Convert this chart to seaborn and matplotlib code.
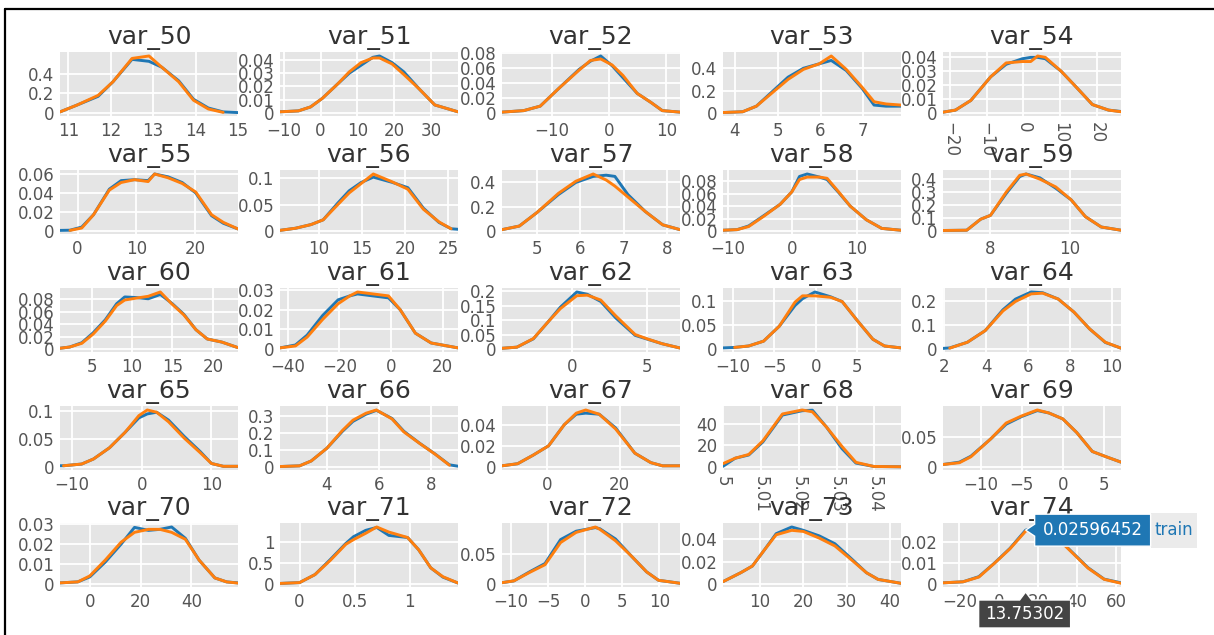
import numpy as np
import pandas as pd
import seaborn as sns
import matplotlib
matplotlib.use("Agg")
import matplotlib.pyplot as plt
import matplotlib.transforms as mtransforms
from matplotlib.patches import Polygon, Rectangle
from matplotlib.lines import Line2D

nan = float("nan")

# ---------------- data ----------------
NAMES = ["var_50", "var_51", "var_52", "var_53", "var_54",
         "var_55", "var_56", "var_57", "var_58", "var_59",
         "var_60", "var_61", "var_62", "var_63", "var_64",
         "var_65", "var_66", "var_67", "var_68", "var_69",
         "var_70", "var_71", "var_72", "var_73", "var_74"]

XS = [
    [10.8, 11.2, 11.7, 12.05, 12.5, 12.9, 13.2, 13.6, 13.95, 14.3, 14.65, 15.0],
    [-11, -6, -2.7, 0.5, 4.7, 7.8, 11, 14.2, 16, 19.4, 22.6, 26.8, 31, 37.3],
    [-18.8, -15, -12.1, -8.8, -5.3, -3.3, -1.5, 0.5, 2.4, 4.9, 7.3, 9.3, 12.4],
    [3.72, 4.18, 4.5, 4.87, 5.24, 5.6, 5.97, 6.25, 6.6, 6.97, 7.25, 7.53, 7.88],
    [-21.9, -18.5, -14.3, -8.9, -4.7, -0.3, 2, 3.9, 6, 10.3, 14.6, 18.8, 23.2, 26.6],
    [-3.0, -1.3, 0.7, 2.7, 5.4, 7.4, 9.7, 12.0, 13.1, 15.4, 17.8, 20.1, 22.8, 24.8, 27.3],
    [5.5, 7.3, 9.1, 10.5, 12.2, 13.5, 14.9, 16.3, 18.5, 20.3, 22.1, 23.9, 25.3, 26.1],
    [4.2, 4.6, 5.0, 5.5, 5.9, 6.3, 6.6, 6.8, 7.1, 7.5, 7.9, 8.3],
    [-10.8, -8.6, -6.8, -4.4, -1.9, -0.1, 1.1, 2.3, 4.2, 5.4, 7.2, 9.0, 11.5, 13.9, 16.9],
    [6.8, 7.4, 7.75, 8.0, 8.4, 8.74, 8.9, 9.25, 9.65, 10.04, 10.4, 10.8, 11.3],
    [1.1, 2.3, 3.8, 5.2, 6.7, 8.1, 9.1, 10.5, 12.0, 13.5, 14.9, 16.4, 17.9, 19.3, 21.1, 23.1],
    [-43, -37, -32.5, -26.5, -20.5, -16, -13, -7, -1, 3.5, 9.4, 15.5, 25.9],
    [-4.7, -3.7, -2.6, -1.6, -0.8, 0.3, 1.0, 1.9, 2.9, 4.2, 5.0, 6.0, 7.2],
    [-11.2, -9.8, -8.1, -6.3, -4.4, -2.5, -1.6, -0.1, 1.8, 3.2, 5.1, 6.9, 8.3, 10.3],
    [1.93, 2.25, 3.1, 3.95, 4.8, 5.4, 6.15, 6.7, 7.45, 8.2, 8.95, 9.7, 10.45],
    [-11.7, -11.2, -8.6, -6.9, -4.6, -2.4, -0.4, 0.8, 2.15, 3.85, 6.1, 8.4, 10.0, 11.7, 13.8],
    [2.2, 2.95, 3.4, 4.0, 4.6, 5.0, 5.5, 5.9, 6.5, 6.95, 7.55, 8.15, 8.7, 9.03],
    [-12.3, -8, -3.8, 0.5, 4.8, 8.1, 10.7, 14.4, 18.9, 24.2, 28.6, 31.8, 36.6],
    [5.0, 5.0032, 5.0068, 5.0105, 5.0157, 5.0209, 5.0236, 5.0273, 5.0314, 5.0351, 5.0398, 5.047],
    [-14.6, -12.6, -11.2, -8.8, -6.9, -5.0, -3.1, -1.7, 0.0, 1.7, 3.6, 5.5, 7.1],
    [-11.7, -4.7, 0, 6.1, 12.3, 17.6, 23.1, 27.6, 32.2, 37.6, 43, 49.2, 53.8, 58.3],
    [-0.177, 0.0, 0.14, 0.28, 0.42, 0.49, 0.6, 0.7, 0.81, 0.98, 1.08, 1.19, 1.3, 1.437],
    [-11.2, -9.6, -7.5, -5.4, -3.3, -1.2, 1.4, 2.0, 4.1, 6.2, 8.3, 9.9, 12.8],
    [1.4, 5.5, 8.2, 10.9, 13.7, 17.3, 20, 23.7, 27.3, 31, 34.6, 37.3, 42.6],
    [-28.4, -18.2, -10.1, -2.1, 5.8, 13.75302, 20, 27, 33.8, 45.6, 53.8, 62.4],
]

TRAIN = [
    [0.01, 0.08, 0.17, 0.32, 0.55, 0.53, 0.47, 0.33, 0.14, 0.05, 0.01, 0.003],
    [0.0008, 0.0015, 0.0045, 0.011, 0.022, 0.030, 0.036, 0.042, 0.043, 0.038, 0.031, 0.018, 0.006, 0.0008],
    [0.001, 0.003, 0.009, 0.033, 0.058, 0.069, 0.076, 0.063, 0.047, 0.026, 0.014, 0.003, 0.001],
    [0.003, 0.01, 0.06, 0.19, 0.32, 0.40, 0.44, 0.47, 0.38, 0.22, 0.07, 0.06, 0.06],
    [0.0005, 0.002, 0.009, 0.026, 0.035, 0.039, 0.040, 0.040, 0.039, 0.030, 0.018, 0.006, 0.002, 0.001],
    [0.0005, 0.0007, 0.004, 0.017, 0.044, 0.053, 0.054, 0.053, 0.060, 0.057, 0.051, 0.040, 0.016, 0.008, 0.002],
    [0.001, 0.005, 0.012, 0.021, 0.053, 0.076, 0.092, 0.102, 0.092, 0.082, 0.043, 0.016, 0.004, 0.003],
    [0.01, 0.04, 0.15, 0.30, 0.40, 0.45, 0.46, 0.45, 0.30, 0.16, 0.05, 0.01],
    [0.001, 0.002, 0.008, 0.025, 0.043, 0.063, 0.088, 0.092, 0.087, 0.083, 0.062, 0.040, 0.018, 0.004, 0.001],
    [0.003, 0.005, 0.09, 0.12, 0.29, 0.42, 0.44, 0.41, 0.33, 0.24, 0.11, 0.03, 0.005],
    [0.001, 0.003, 0.010, 0.026, 0.047, 0.073, 0.084, 0.083, 0.081, 0.088, 0.074, 0.056, 0.031, 0.016, 0.011, 0.002],
    [0.0005, 0.002, 0.007, 0.017, 0.025, 0.027, 0.028, 0.027, 0.026, 0.020, 0.008, 0.003, 0.0005],
    [0.002, 0.006, 0.035, 0.095, 0.145, 0.198, 0.19, 0.165, 0.108, 0.047, 0.034, 0.018, 0.003],
    [0.002, 0.003, 0.006, 0.016, 0.047, 0.090, 0.104, 0.118, 0.108, 0.098, 0.057, 0.020, 0.006, 0.002],
    [0.002, 0.004, 0.028, 0.077, 0.165, 0.21, 0.24, 0.237, 0.21, 0.155, 0.084, 0.027, 0.003],
    [0.002, 0.002, 0.005, 0.014, 0.034, 0.061, 0.087, 0.094, 0.097, 0.083, 0.054, 0.027, 0.006, 0.001, 0.001],
    [0.002, 0.006, 0.035, 0.11, 0.21, 0.268, 0.31, 0.333, 0.285, 0.21, 0.14, 0.076, 0.012, 0.004],
    [0.001, 0.003, 0.011, 0.020, 0.040, 0.050, 0.051, 0.050, 0.037, 0.013, 0.004, 0.001, 0.001],
    [0.5, 8, 11, 23, 48, 52, 52.5, 37, 17, 3.5, 0.4, 0.1],
    [0.004, 0.008, 0.018, 0.047, 0.072, 0.085, 0.095, 0.091, 0.081, 0.058, 0.026, 0.016, 0.008],
    [0.0005, 0.001, 0.0035, 0.011, 0.020, 0.0285, 0.027, 0.0275, 0.0287, 0.023, 0.012, 0.003, 0.001, 0.0005],
    [0.01, 0.03, 0.22, 0.58, 0.96, 1.12, 1.27, 1.34, 1.15, 1.10, 0.81, 0.38, 0.16, 0.02],
    [0.002, 0.005, 0.02, 0.034, 0.074, 0.088, 0.094, 0.092, 0.075, 0.047, 0.02, 0.006, 0.001],
    [0.002, 0.010, 0.016, 0.030, 0.045, 0.051, 0.048, 0.043, 0.036, 0.023, 0.010, 0.004, 0.0005],
    [0.0005, 0.001, 0.0035, 0.0101, 0.0172, 0.02596452, 0.0275, 0.024, 0.0187, 0.0078, 0.0023, 0.0005],
]

TEST = [
    [0.01, 0.08, 0.18, 0.32, 0.56, 0.585, 0.47, 0.32, 0.13, 0.04, 0.005, nan],
    [0.0008, 0.0015, 0.0045, 0.011, 0.022, 0.031, 0.038, 0.0415, 0.0415, 0.037, 0.029, 0.018, 0.006, 0.0008],
    [0.001, 0.003, 0.009, 0.033, 0.057, 0.07, 0.072, 0.064, 0.050, 0.026, 0.014, 0.003, 0.001],
    [0.003, 0.01, 0.06, 0.18, 0.30, 0.39, 0.44, 0.51, 0.39, 0.23, 0.10, 0.08, 0.07],
    [0.0005, 0.002, 0.009, 0.026, 0.036, 0.037, 0.037, 0.041, 0.040, 0.030, 0.018, 0.006, 0.002, 0.0008],
    [nan, 0.0005, 0.003, 0.017, 0.043, 0.051, 0.054, 0.052, 0.060, 0.056, 0.050, 0.041, 0.017, 0.009, 0.002],
    [0.001, 0.005, 0.012, 0.021, 0.050, 0.072, 0.090, 0.108, 0.093, 0.079, 0.041, 0.017, 0.004, nan],
    [0.01, 0.04, 0.15, 0.31, 0.41, 0.47, 0.42, 0.37, 0.28, 0.16, 0.05, 0.01],
    [0.001, 0.002, 0.007, 0.024, 0.043, 0.063, 0.083, 0.087, 0.087, 0.085, 0.063, 0.040, 0.018, 0.004, 0.001],
    [0.003, 0.005, 0.09, 0.12, 0.30, 0.43, 0.44, 0.40, 0.34, 0.24, 0.11, 0.03, 0.005],
    [0.001, 0.003, 0.009, 0.024, 0.045, 0.070, 0.079, 0.082, 0.085, 0.092, 0.073, 0.055, 0.031, 0.016, 0.011, 0.002],
    [0.0005, 0.0015, 0.006, 0.015, 0.023, 0.027, 0.029, 0.028, 0.027, 0.020, 0.008, 0.003, 0.0005],
    [0.002, 0.006, 0.036, 0.095, 0.140, 0.185, 0.187, 0.170, 0.115, 0.05, 0.035, 0.018, 0.003],
    [nan, 0.003, 0.006, 0.016, 0.047, 0.097, 0.110, 0.110, 0.107, 0.098, 0.057, 0.020, 0.006, 0.002],
    [nan, 0.003, 0.028, 0.077, 0.16, 0.20, 0.232, 0.235, 0.21, 0.155, 0.084, 0.028, 0.003],
    [nan, 0.002, 0.005, 0.014, 0.034, 0.061, 0.091, 0.101, 0.097, 0.080, 0.051, 0.025, 0.006, 0.001, 0.001],
    [0.002, 0.006, 0.035, 0.11, 0.215, 0.275, 0.316, 0.335, 0.282, 0.206, 0.139, 0.075, 0.01, nan],
    [0.001, 0.003, 0.011, 0.020, 0.040, 0.051, 0.054, 0.050, 0.036, 0.013, 0.004, 0.001, 0.001],
    [3, 8, 11.5, 24, 49, 52.7, 51, 37, 19, 4.2, 0.4, 0.1],
    [0.004, 0.007, 0.017, 0.047, 0.074, 0.086, 0.096, 0.091, 0.081, 0.058, 0.026, 0.016, 0.008],
    [0.0005, 0.001, 0.004, 0.012, 0.021, 0.026, 0.0275, 0.0275, 0.026, 0.0225, 0.012, 0.003, 0.001, 0.0004],
    [0.01, 0.03, 0.22, 0.56, 0.94, 1.05, 1.20, 1.35, 1.23, 1.10, 0.81, 0.38, 0.17, 0.02],
    [0.002, 0.005, 0.019, 0.032, 0.069, 0.086, 0.095, 0.091, 0.072, 0.047, 0.02, 0.006, 0.001],
    [0.002, 0.010, 0.016, 0.030, 0.044, 0.048, 0.047, 0.041, 0.034, 0.022, 0.010, 0.004, 0.0005],
    [0.0005, 0.001, 0.0033, 0.0100, 0.0170, 0.0255, 0.0272, 0.0238, 0.0185, 0.0076, 0.0022, 0.0003],
]

XTICKS = [
    [11, 12, 13, 14, 15], [-10, 0, 10, 20, 30], [-10, 0, 10], [4, 5, 6, 7], [-20, -10, 0, 10, 20],
    [0, 10, 20], [10, 15, 20, 25], [5, 6, 7, 8], [-10, 0, 10], [8, 10],
    [5, 10, 15, 20], [-40, -20, 0, 20], [0, 5], [-10, -5, 0, 5], [2, 4, 6, 8, 10],
    [-10, 0, 10], [4, 6, 8], [0, 20], [5, 5.01, 5.02, 5.03, 5.04], [-10, -5, 0, 5],
    [0, 20, 40], [0, 0.5, 1], [-10, -5, 0, 5, 10], [10, 20, 30, 40], [-20, 0, 20, 40, 60],
]

YTICKS = [
    [0, 0.2, 0.4], [0, 0.01, 0.02, 0.03, 0.04], [0, 0.02, 0.04, 0.06, 0.08], [0, 0.2, 0.4], [0, 0.01, 0.02, 0.03, 0.04],
    [0, 0.02, 0.04, 0.06], [0, 0.05, 0.1], [0, 0.2, 0.4], [0, 0.02, 0.04, 0.06, 0.08], [0, 0.1, 0.2, 0.3, 0.4],
    [0, 0.02, 0.04, 0.06, 0.08], [0, 0.01, 0.02, 0.03], [0, 0.05, 0.1, 0.15, 0.2], [0, 0.05, 0.1], [0, 0.1, 0.2],
    [0, 0.05, 0.1], [0, 0.1, 0.2, 0.3], [0, 0.02, 0.04], [0, 20, 40], [0, 0.05],
    [0, 0.01, 0.02, 0.03], [0, 0.5, 1], [0, 0.05], [0, 0.02, 0.04], [0, 0.01, 0.02],
]

ROTATED_X = ["var_54", "var_68"]
HOVER_VAR = "var_74"
HOVER_X = 13.75302
HOVER_Y = 0.02596452
SERIES = ["train", "test"]

# ---------------- style ----------------
BLUE = "#1f77b4"
ORANGE = "#ff7f0e"
BG = "#e5e5e5"
TICK_C = "#555555"
TITLE_C = "#333333"

sns.set_style("white")
plt.rcParams["font.family"] = ["DejaVu Sans"]
plt.rcParams["axes.unicode_minus"] = True

W, H = 1214, 635
fig = plt.figure(figsize=(W / 100, H / 100), dpi=100)

COL_LEFT = [60, 280, 502, 723, 943]
ROW_TOP = [52, 170, 288, 406, 523]
AX_W, AX_H = 178, 64


def fmt(v):
    s = f"{v:g}"
    return s.replace("-", "\u2212")


axes = {}
for i, name in enumerate(NAMES):
    r, c = divmod(i, 5)
    left = COL_LEFT[c] / W
    bottom = (H - ROW_TOP[r] - AX_H) / H
    ax = fig.add_axes([left, bottom, AX_W / W, AX_H / H])
    ax.set_facecolor(BG)
    axes[name] = ax

    df = pd.DataFrame({"x": XS[i], "train": TRAIN[i], "test": TEST[i]})
    long = df.melt(id_vars="x", var_name="set", value_name="density").dropna()
    sns.lineplot(data=long, x="x", y="density", hue="set", hue_order=SERIES,
                 palette={"train": BLUE, "test": ORANGE}, estimator=None,
                 sort=False, lw=2.1, legend=False, ax=ax)

    xmin, xmax = min(XS[i]), max(XS[i])
    ymax = np.nanmax(np.r_[TRAIN[i], TEST[i]])
    ax.set_xlim(xmin, xmax)
    ax.set_ylim(-0.055 * ymax, ymax * 1.07)
    ax.set_xticks(XTICKS[i])
    ax.set_xticklabels([fmt(v) for v in XTICKS[i]])
    ax.set_yticks(YTICKS[i])
    ax.set_yticklabels([fmt(v) for v in YTICKS[i]])
    ax.set_xlabel("")
    ax.set_ylabel("")
    ax.grid(True, color="white", lw=1.3)
    ax.set_axisbelow(True)
    for s in ax.spines.values():
        s.set_visible(False)
    ax.tick_params(length=0, labelsize=12, colors=TICK_C)
    ax.tick_params(axis="x", pad=4)
    ax.tick_params(axis="y", pad=4)
    if name in ROTATED_X:
        for lab in ax.get_xticklabels():
            lab.set_rotation(-90)
            lab.set_ha("center")
            lab.set_va("top")
    ax.set_title(name, fontsize=18, color=TITLE_C, pad=6)

# ---------------- hover labels on var_74 ----------------
ax = axes[HOVER_VAR]
pt = mtransforms.IdentityTransform() + mtransforms.ScaledTranslation(HOVER_X, HOVER_Y, ax.transData)
fig.add_artist(Polygon([(0, 0), (9, 6), (9, 16), (125, 16), (125, -16), (9, -16), (9, -6)],
                       closed=True, transform=pt, facecolor=BLUE, edgecolor="white", lw=1, zorder=20))
fig.add_artist(Rectangle((125, -18), 46, 35, transform=pt, facecolor="#ebebeb", edgecolor="none", zorder=19))
fig.text(0, 0, "0.02596452", transform=pt + mtransforms.Affine2D().translate(67, 0), color="white",
         fontsize=12, ha="center", va="center", zorder=21)
fig.text(0, 0, "train", transform=pt + mtransforms.Affine2D().translate(148, 0), color=BLUE,
         fontsize=12, ha="center", va="center", zorder=21)

bx = mtransforms.blended_transform_factory(ax.transData, ax.transAxes)
pb = mtransforms.IdentityTransform() + mtransforms.ScaledTranslation(HOVER_X, 0, bx)
fig.add_artist(Polygon([(0, -5), (6, -13), (45, -13), (45, -41), (-47, -41), (-47, -13), (-6, -13)],
                       closed=True, transform=pb, facecolor="#444444", edgecolor="white", lw=1, zorder=20))
fig.text(0, 0, "13.75302", transform=pb + mtransforms.Affine2D().translate(-1, -27), color="white",
         fontsize=12, ha="center", va="center", zorder=21)

# ---------------- frame lines ----------------
fig.add_artist(Line2D([5 / W, 5 / W], [0, 1 - 9 / H], color="black", lw=1.6, transform=fig.transFigure))
fig.add_artist(Line2D([5 / W, 1], [1 - 9 / H, 1 - 9 / H], color="black", lw=1.6, transform=fig.transFigure))

fig.savefig("out.png", dpi=100)
